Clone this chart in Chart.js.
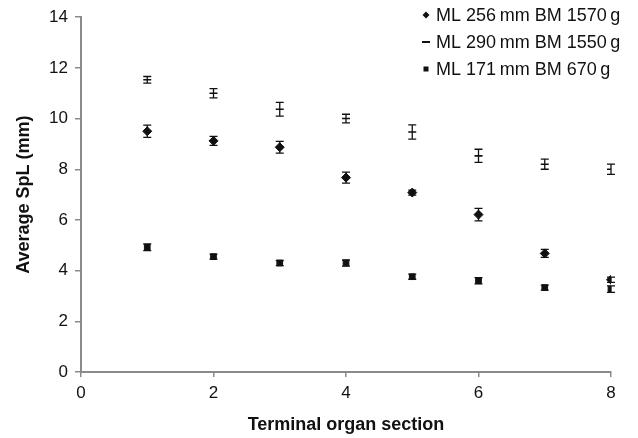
<!DOCTYPE html>
<html>
<head>
<meta charset="utf-8">
<script src="https://cdn.jsdelivr.net/npm/chart.js@4/dist/chart.umd.min.js"></script>
<style>
  html, body { margin: 0; padding: 0; background: #fff; }
  #wrap { width: 638px; height: 438px; position: relative; }
</style>
</head>
<body>
<div id="wrap"><canvas id="c"></canvas></div>
<script>
// ---- data ----
const sections = [1, 2, 3, 4, 5, 6, 7, 8];
const seriesLabels = ['ML 256\u2009mm BM 1570\u2009g', 'ML 290\u2009mm BM 1550\u2009g', 'ML 171\u2009mm BM 670\u2009g'];
const s1Mean = [9.5, 9.12, 8.87, 7.67, 7.08, 6.21, 4.68, 3.64];
const s1Err  = [0.24, 0.18, 0.23, 0.22, 0.1, 0.25, 0.16, 0.1];
const s2Mean = [11.53, 11.0, 10.37, 10.0, 9.47, 8.53, 8.2, 8.0];
const s2Err  = [0.13, 0.18, 0.27, 0.17, 0.28, 0.26, 0.2, 0.2];
const s3Mean = [4.92, 4.55, 4.3, 4.3, 3.76, 3.6, 3.33, 3.27];
const s3Err  = [0.13, 0.1, 0.1, 0.12, 0.1, 0.12, 0.1, 0.13];
const xTicks = [0, 2, 4, 6, 8];
const yTicks = [0, 2, 4, 6, 8, 10, 12, 14];

const FONT = "'Liberation Sans', Arial, Helvetica, sans-serif";
const AXIS = '#8a8a8a';
const INK = '#111';

function pts(mean) { return sections.map((x, i) => ({ x: x, y: mean[i] })); }

const errs = [s1Err, s2Err, s3Err];

const errorBars = {
  id: 'errorBars',
  afterDatasetsDraw(chart) {
    const { ctx, scales: { x, y } } = chart;
    ctx.save();
    ctx.strokeStyle = INK;
    ctx.lineWidth = 1.3;
    chart.data.datasets.forEach((ds, di) => {
      const e = errs[di];
      ds.data.forEach((p, i) => {
        const px = x.getPixelForValue(p.x);
        const yt = y.getPixelForValue(p.y + e[i]);
        const yb = y.getPixelForValue(p.y - e[i]);
        const cap = 4;
        ctx.beginPath();
        ctx.moveTo(px, yt); ctx.lineTo(px, yb);
        ctx.moveTo(px - cap, yt); ctx.lineTo(px + cap, yt);
        ctx.moveTo(px - cap, yb); ctx.lineTo(px + cap, yb);
        ctx.stroke();
      });
    });
    ctx.restore();
  }
};

const customLegend = {
  id: 'customLegend',
  afterDraw(chart) {
    const { ctx } = chart;
    ctx.save();
    ctx.font = '18px ' + FONT;
    ctx.fillStyle = INK;
    ctx.strokeStyle = INK;
    ctx.textBaseline = 'middle';
    const rows = [15, 42, 69];
    const mx = 426, tx = 436;
    chart.data.datasets.forEach((ds, i) => {
      const yy = rows[i];
      ctx.beginPath();
      if (i === 0) {
        ctx.moveTo(mx, yy - 3.5); ctx.lineTo(mx + 3.5, yy); ctx.lineTo(mx, yy + 3.5); ctx.lineTo(mx - 3.5, yy); ctx.closePath(); ctx.fill();
      } else if (i === 1) {
        ctx.lineWidth = 2; ctx.moveTo(mx - 4, yy); ctx.lineTo(mx + 4, yy); ctx.stroke();
      } else {
        ctx.fillRect(mx - 2.5, yy - 2.5, 5, 5);
      }
      ctx.fillText(ds.label, tx, yy + 1);
    });
    ctx.restore();
  }
};

new Chart(document.getElementById('c'), {
  type: 'scatter',
  data: {
    datasets: [
      { label: seriesLabels[0], data: pts(s1Mean), pointStyle: 'rectRot', pointRadius: 4.5, backgroundColor: INK, borderColor: INK, borderWidth: 1 },
      { label: seriesLabels[1], data: pts(s2Mean), pointStyle: 'line', pointRadius: 4, backgroundColor: INK, borderColor: INK, borderWidth: 1.6 },
      { label: seriesLabels[2], data: pts(s3Mean), pointStyle: 'rect', pointRadius: 4, backgroundColor: INK, borderColor: INK, borderWidth: 1 }
    ]
  },
  options: {
    responsive: true,
    maintainAspectRatio: false,
    animation: false,
    events: [],
    layout: { padding: { top: 15, right: 27, bottom: 0, left: 0 } },
    plugins: { legend: { display: false }, tooltip: { enabled: false } },
    scales: {
      x: {
        type: 'linear', min: 0, max: 8,
        afterBuildTicks(s) { s.ticks = xTicks.map(v => ({ value: v })); },
        afterFit(s) { s.height = 66; },
        border: { color: AXIS, width: 2 },
        grid: { drawOnChartArea: false, color: AXIS, tickLength: 5, lineWidth: 1.5 },
        ticks: { color: INK, font: { family: FONT, size: 17 }, padding: 6, maxRotation: 0 },
        title: { display: true, text: 'Terminal organ section', color: INK, font: { family: FONT, size: 18, weight: 'bold' }, padding: { top: 0, bottom: 2 } }
      },
      y: {
        type: 'linear', min: 0, max: 14,
        afterBuildTicks(s) { s.ticks = yTicks.map(v => ({ value: v })); },
        afterFit(s) { s.width = 81; },
        border: { color: AXIS, width: 2 },
        grid: { drawOnChartArea: false, color: AXIS, tickLength: 6, lineWidth: 1.5 },
        ticks: { color: INK, font: { family: FONT, size: 17 }, padding: 7 },
        title: { display: true, text: 'Average SpL (mm)', color: INK, font: { family: FONT, size: 18, weight: 'bold' }, padding: { top: 13, bottom: 0 } }
      }
    }
  },
  plugins: [errorBars, customLegend]
});
</script>
</body>
</html>
